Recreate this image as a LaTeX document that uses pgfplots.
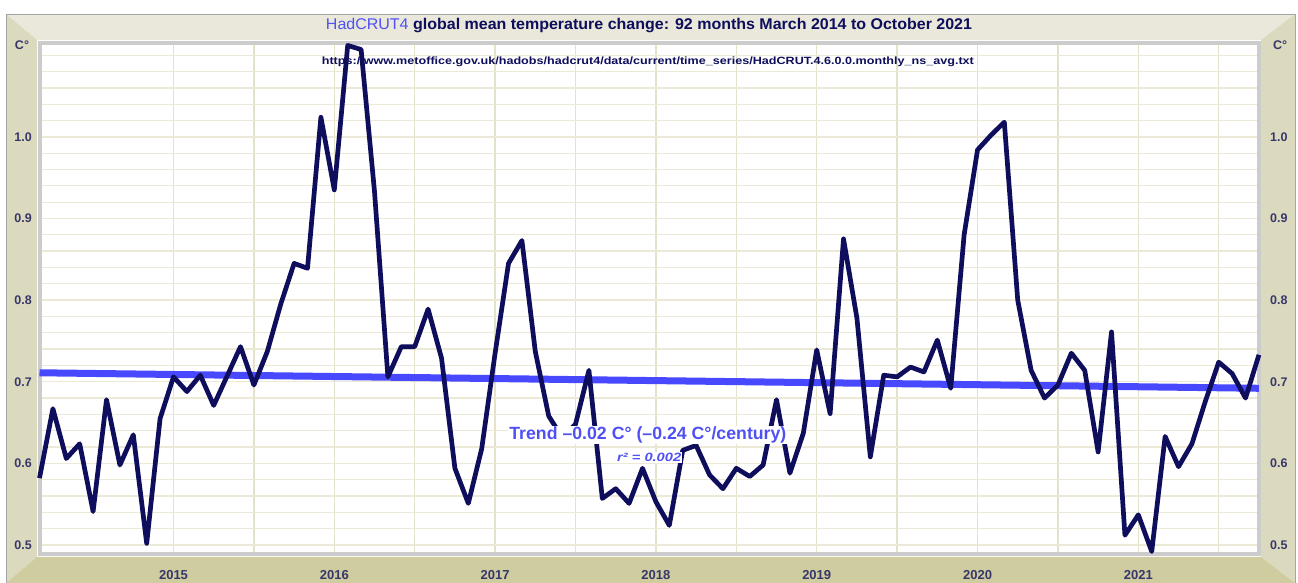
\documentclass[border=0pt]{standalone}
\usepackage{pgfplots}
\pgfplotsset{compat=1.18}
\usepackage{pgfplotstable}
\usepackage{graphicx}
\usepackage{fontspec}
\setmainfont{Liberation Sans}

\definecolor{navy}{RGB}{14,14,92}
\definecolor{tblue}{RGB}{72,72,255}
\definecolor{lblue}{RGB}{80,80,245}
\definecolor{ticknavy}{RGB}{55,55,105}
\definecolor{gridc}{RGB}{236,234,214}
\definecolor{vgridc}{RGB}{228,226,200}
\definecolor{frtop}{RGB}{233,232,218}
\definecolor{frside}{RGB}{220,218,190}
\definecolor{frbot}{RGB}{207,204,160}

% month index 0 = March 2014 ... 91 = October 2021
\pgfplotstableread{
i t
0 0.582
1 0.667
2 0.606
3 0.624
4 0.541
5 0.678
6 0.598
7 0.635
8 0.502
9 0.655
10 0.706
11 0.688
12 0.708
13 0.671
14 0.707
15 0.743
16 0.696
17 0.737
18 0.795
19 0.845
20 0.839
21 1.024
22 0.935
23 1.112
24 1.107
25 0.933
26 0.706
27 0.743
28 0.743
29 0.789
30 0.729
31 0.594
32 0.551
33 0.618
34 0.735
35 0.845
36 0.873
37 0.737
38 0.658
39 0.632
40 0.648
41 0.714
42 0.557
43 0.569
44 0.551
45 0.594
46 0.553
47 0.524
48 0.616
49 0.622
50 0.586
51 0.569
52 0.594
53 0.584
54 0.598
55 0.678
56 0.588
57 0.637
58 0.739
59 0.661
60 0.875
61 0.778
62 0.608
63 0.708
64 0.706
65 0.718
66 0.712
67 0.751
68 0.692
69 0.880
70 0.984
71 1.002
72 1.018
73 0.800
74 0.714
75 0.680
76 0.696
77 0.735
78 0.714
79 0.614
80 0.761
81 0.512
82 0.537
83 0.492
84 0.633
85 0.596
86 0.624
87 0.676
88 0.724
89 0.710
90 0.680
91 0.733
}\hadcrut

\pgfplotstableread{
i t
0 0.711
91 0.692
}\trend

\begin{document}
\begin{tikzpicture}[x=1pt,y=1pt]
\fill[white] (0,0) rectangle (1298,583);
\fill[frtop] (6,569) -- (1295,569) -- (1261,543) -- (37,543) -- cycle;
\fill[frside] (6,569) -- (37,543) -- (37,26) -- (6,0) -- cycle;
\fill[frside] (1295,569) -- (1261,543) -- (1261,26) -- (1295,0) -- cycle;
\fill[frbot] (6,0) -- (37,26) -- (1261,26) -- (1295,0) -- cycle;
\draw[black!35, line width=0.8pt] (6,0) -- (6,569) -- (1295,569) -- (1295,0);

\node[anchor=base, font=\fontsize{15.5}{15.5}\selectfont] at (649,553)
  {\resizebox{646pt}{\height}{\textcolor{lblue}{HadCRUT4} \textcolor{navy}{\bfseries global mean temperature change: 92 months March 2014 to October 2021}}};

\node[font=\fontsize{12.5}{12.5}\selectfont\bfseries, text=ticknavy] at (22,538) {C°};
\node[font=\fontsize{12.5}{12.5}\selectfont\bfseries, text=ticknavy] at (1280,538) {C°};

\begin{axis}[
  at={(39.5pt,29pt)}, anchor=south west, scale only axis,
  width=1219.5pt, height=511pt,
  xmin=0, xmax=91, ymin=0.489, ymax=1.115,
  axis background/.style={fill=white},
  axis line style={draw=black!20, line width=4pt},
  xtick={10,22,34,46,58,70,82},
  xticklabels={2015,2016,2017,2018,2019,2020,2021},
  minor xtick={16,28,40,52,64,76,88},
  ytick={0.5,0.6,0.7,0.8,0.9,1.0},
  minor ytick={0.52,0.54,0.56,0.58,0.62,0.64,0.66,0.68,0.72,0.74,0.76,0.78,0.82,0.84,0.86,0.88,0.92,0.94,0.96,0.98,1.02,1.04,1.06,1.08,1.1},
  grid=both,
  y grid style={gridc, line width=1.3pt},
  x grid style={vgridc, line width=1.3pt},
  major tick length=0pt, minor tick length=0pt,
  /pgf/number format/assume math mode=true,
  yticklabel style={/pgf/number format/.cd, fixed, fixed zerofill, precision=1, /tikz/.cd,
    font=\fontsize{12.5}{12.5}\selectfont\bfseries, text=ticknavy, anchor=east, inner sep=0pt, xshift=-7.5pt},
  xticklabel style={font=\fontsize{13}{13}\selectfont\bfseries, text=ticknavy, anchor=center, yshift=-21pt},
  clip=false,
]
\node[anchor=base, text=navy, font=\fontsize{10.5}{10.5}\selectfont\bfseries] at (axis cs:45.4,1.0888)
  {\resizebox{652pt}{\height}{https://www.metoffice.gov.uk/hadobs/hadcrut4/data/current/time\_series/HadCRUT.4.6.0.0.monthly\_ns\_avg.txt}};
\addplot[tblue, line width=7pt] table[x=i, y=t] {\trend};
\addplot[navy, line width=4.7pt, line join=round] table[x=i, y=t] {\hadcrut};
\node[fill=white, inner sep=1pt, text=lblue, font=\fontsize{17.7}{17.7}\selectfont\bfseries] at (axis cs:45.4,0.635)
  {\resizebox{277pt}{\height}{Trend –0.02 C° (–0.24 C°/century)}};
\node[fill=white, inner sep=1pt, text=lblue, font=\fontsize{12}{12}\selectfont\bfseries\itshape] at (axis cs:45.5,0.607)
  {\resizebox{64pt}{\height}{r² = 0.002}};
\end{axis}

\begin{axis}[
  at={(39.5pt,29pt)}, anchor=south west, scale only axis,
  width=1219.5pt, height=511pt,
  xmin=0, xmax=91, ymin=0.489, ymax=1.115,
  hide x axis, axis y line*=right, y axis line style={draw=none},
  ytick={0.5,0.6,0.7,0.8,0.9,1.0},
  major tick length=0pt,
  /pgf/number format/assume math mode=true,
  yticklabel style={/pgf/number format/.cd, fixed, fixed zerofill, precision=1, /tikz/.cd,
    font=\fontsize{12.5}{12.5}\selectfont\bfseries, text=ticknavy, anchor=west, inner sep=0pt, xshift=11pt},
]
\addplot[draw=none] coordinates {(0,0.6) (91,0.6)};
\end{axis}

\pgfresetboundingbox
\path[use as bounding box] (0,0) rectangle (1298,583);
\end{tikzpicture}
\end{document}
